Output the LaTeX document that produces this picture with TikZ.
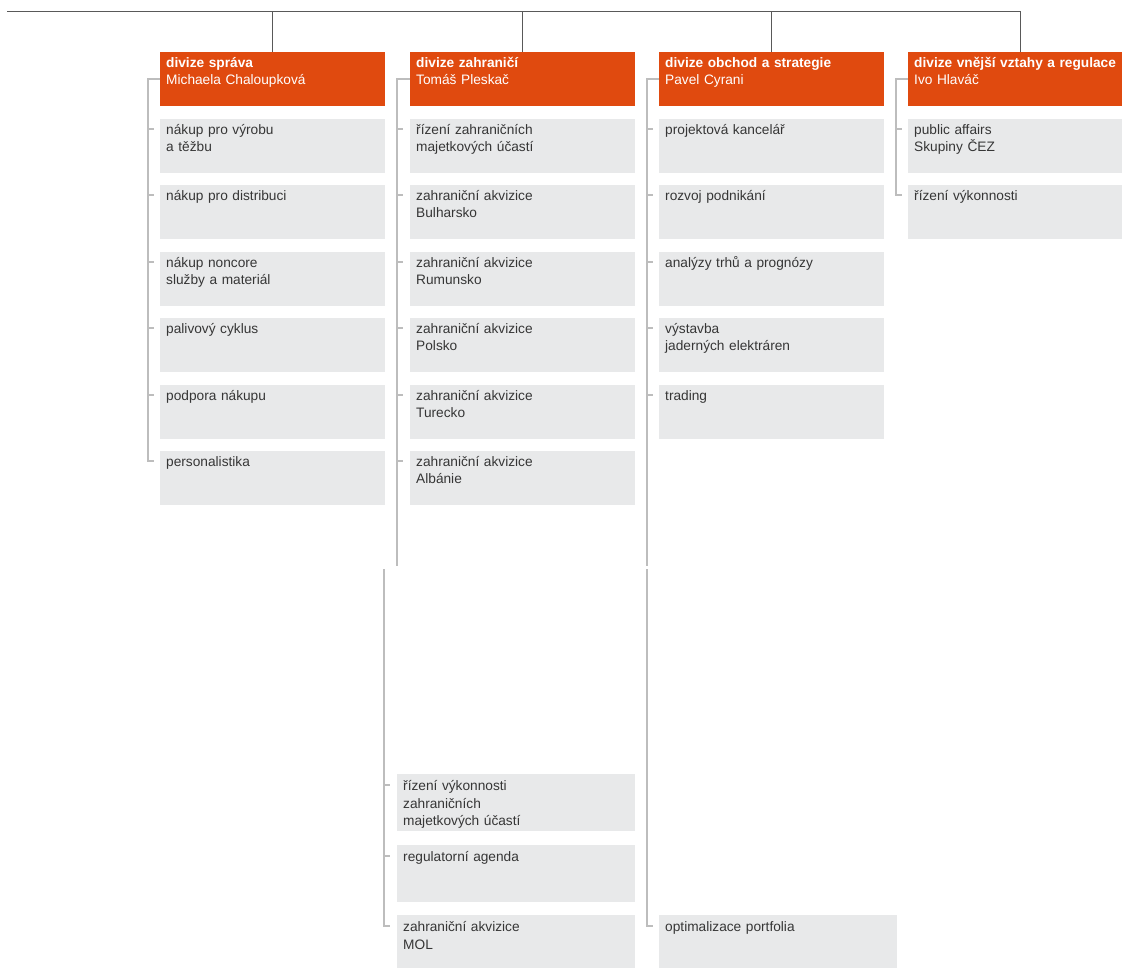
\documentclass[tikz,border=0pt]{standalone}
\usepackage{fontspec}
\setmainfont{Liberation Sans}
\usetikzlibrary{calc}

\definecolor{cezorange}{HTML}{E04A0F}
\definecolor{unitgray}{HTML}{E8E9EA}
\definecolor{linegray}{HTML}{BDBDBD}
\definecolor{textgray}{HTML}{363636}

\begin{document}
\begin{tikzpicture}[
                x=1pt, y=-1pt,
                every node/.style={anchor=north west, inner xsep=6pt, inner ysep=0pt,
                  align=left, text width=213pt, text height=15.5pt, text depth=38.5pt,
                  font=\fontsize{13.7}{17}\selectfont},
                head/.style={fill=cezorange, text=white},
                unit/.style={fill=unitgray, text=textgray},
                unitb/.style={unit, text width=226pt, text height=16.5pt, text depth=40.5pt,
                  font=\fontsize{13.7}{17.5}\selectfont},
                trunk/.style={draw=black!65, line width=1pt},
                conn/.style={draw=linegray, line width=1.5pt}
                ]
                \useasboundingbox (0,0) rectangle (1122,968);
                % divisions
                \node[head] (sp) at (160,52) {\textbf{divize správa}\\Michaela Chaloupková};
                \node[head] (zh) at (410,52) {\textbf{divize zahraničí}\\Tomáš Pleskač};
                \node[head] (ob) at (659,52) {\textbf{divize obchod a strategie}\\Pavel Cyrani};
                \node[head] (vz) at (908,52) {\textbf{divize vnější vztahy a regulace}\\Ivo Hlaváč};
                % divize správa
                \node[unit] (sp1) at (160,119) {nákup pro výrobu\\a těžbu};
                \node[unit] (sp2) at (160,185) {nákup pro distribuci};
                \node[unit] (sp3) at (160,252) {nákup noncore\\služby a materiál};
                \node[unit] (sp4) at (160,318) {palivový cyklus};
                \node[unit] (sp5) at (160,385) {podpora nákupu};
                \node[unit] (sp6) at (160,451) {personalistika};
                % divize zahraničí
                \node[unit] (zh1) at (410,119) {řízení zahraničních\\majetkových účastí};
                \node[unit] (zh2) at (410,185) {zahraniční akvizice\\Bulharsko};
                \node[unit] (zh3) at (410,252) {zahraniční akvizice\\Rumunsko};
                \node[unit] (zh4) at (410,318) {zahraniční akvizice\\Polsko};
                \node[unit] (zh5) at (410,385) {zahraniční akvizice\\Turecko};
                \node[unit] (zh6) at (410,451) {zahraniční akvizice\\Albánie};
                \node[unitb] (zh7) at (397,774) {řízení výkonnosti\\zahraničních\\majetkových účastí};
                \node[unitb] (zh8) at (397,845) {regulatorní agenda};
                \node[unitb] (zh9) at (397,915) {zahraniční akvizice\\MOL};
                % divize obchod a strategie
                \node[unit] (ob1) at (659,119) {projektová kancelář};
                \node[unit] (ob2) at (659,185) {rozvoj podnikání};
                \node[unit] (ob3) at (659,252) {analýzy trhů a prognózy};
                \node[unit] (ob4) at (659,318) {výstavba\\jaderných elektráren};
                \node[unit] (ob5) at (659,385) {trading};
                \node[unitb] (ob6) at (659,915) {optimalizace portfolia};
                % divize vnější vztahy a regulace
                \node[unit] (vz1) at (908,119) {public affairs\\Skupiny ČEZ};
                \node[unit] (vz2) at (908,185) {řízení výkonnosti};

                % top line
                \coordinate (root) at (7,12);
                \draw[trunk] (root) -- (root -| vz.north) -- (vz.north);
                \draw[trunk] (sp.north) -- (sp.north |- root);
                \draw[trunk] (zh.north) -- (zh.north |- root);
                \draw[trunk] (ob.north) -- (ob.north |- root);

                % connectors
                \draw[conn] (sp.west) -- ++(-12,0) |- ($(sp6.north west)+(-6,10)$)
                  ($(sp1.north west)+(-12,10)$) -- ++(6,0)
                  ($(sp2.north west)+(-12,10)$) -- ++(6,0)
                  ($(sp3.north west)+(-12,10)$) -- ++(6,0)
                  ($(sp4.north west)+(-12,10)$) -- ++(6,0)
                  ($(sp5.north west)+(-12,10)$) -- ++(6,0);
                \coordinate (zhcut) at (397,566);
                \coordinate (zhcont) at (384,569);
                \draw[conn] (zh.west) -- ++(-13,0) -- (zhcut)
                  ($(zh1.north west)+(-13,10)$) -- ++(6,0)
                  ($(zh2.north west)+(-13,10)$) -- ++(6,0)
                  ($(zh3.north west)+(-13,10)$) -- ++(6,0)
                  ($(zh4.north west)+(-13,10)$) -- ++(6,0)
                  ($(zh5.north west)+(-13,10)$) -- ++(6,0)
                  ($(zh6.north west)+(-13,10)$) -- ++(6,0);
                \draw[conn] (zhcont) |- ($(zh9.north west)+(-7,11)$)
                  ($(zh7.north west)+(-13,11)$) -- ++(6,0)
                  ($(zh8.north west)+(-13,11)$) -- ++(6,0);
                \coordinate (obcut) at (647,566);
                \coordinate (obcont) at (647,569);
                \draw[conn] (ob.west) -- ++(-12,0) -- (obcut)
                  ($(ob1.north west)+(-12,10)$) -- ++(6,0)
                  ($(ob2.north west)+(-12,10)$) -- ++(6,0)
                  ($(ob3.north west)+(-12,10)$) -- ++(6,0)
                  ($(ob4.north west)+(-12,10)$) -- ++(6,0)
                  ($(ob5.north west)+(-12,10)$) -- ++(6,0);
                \draw[conn] (obcont) |- ($(ob6.north west)+(-6,11)$);
                \draw[conn] (vz.west) -- ++(-12,0) |- ($(vz2.north west)+(-6,10)$)
                  ($(vz1.north west)+(-12,10)$) -- ++(6,0);
\end{tikzpicture}
\end{document}
